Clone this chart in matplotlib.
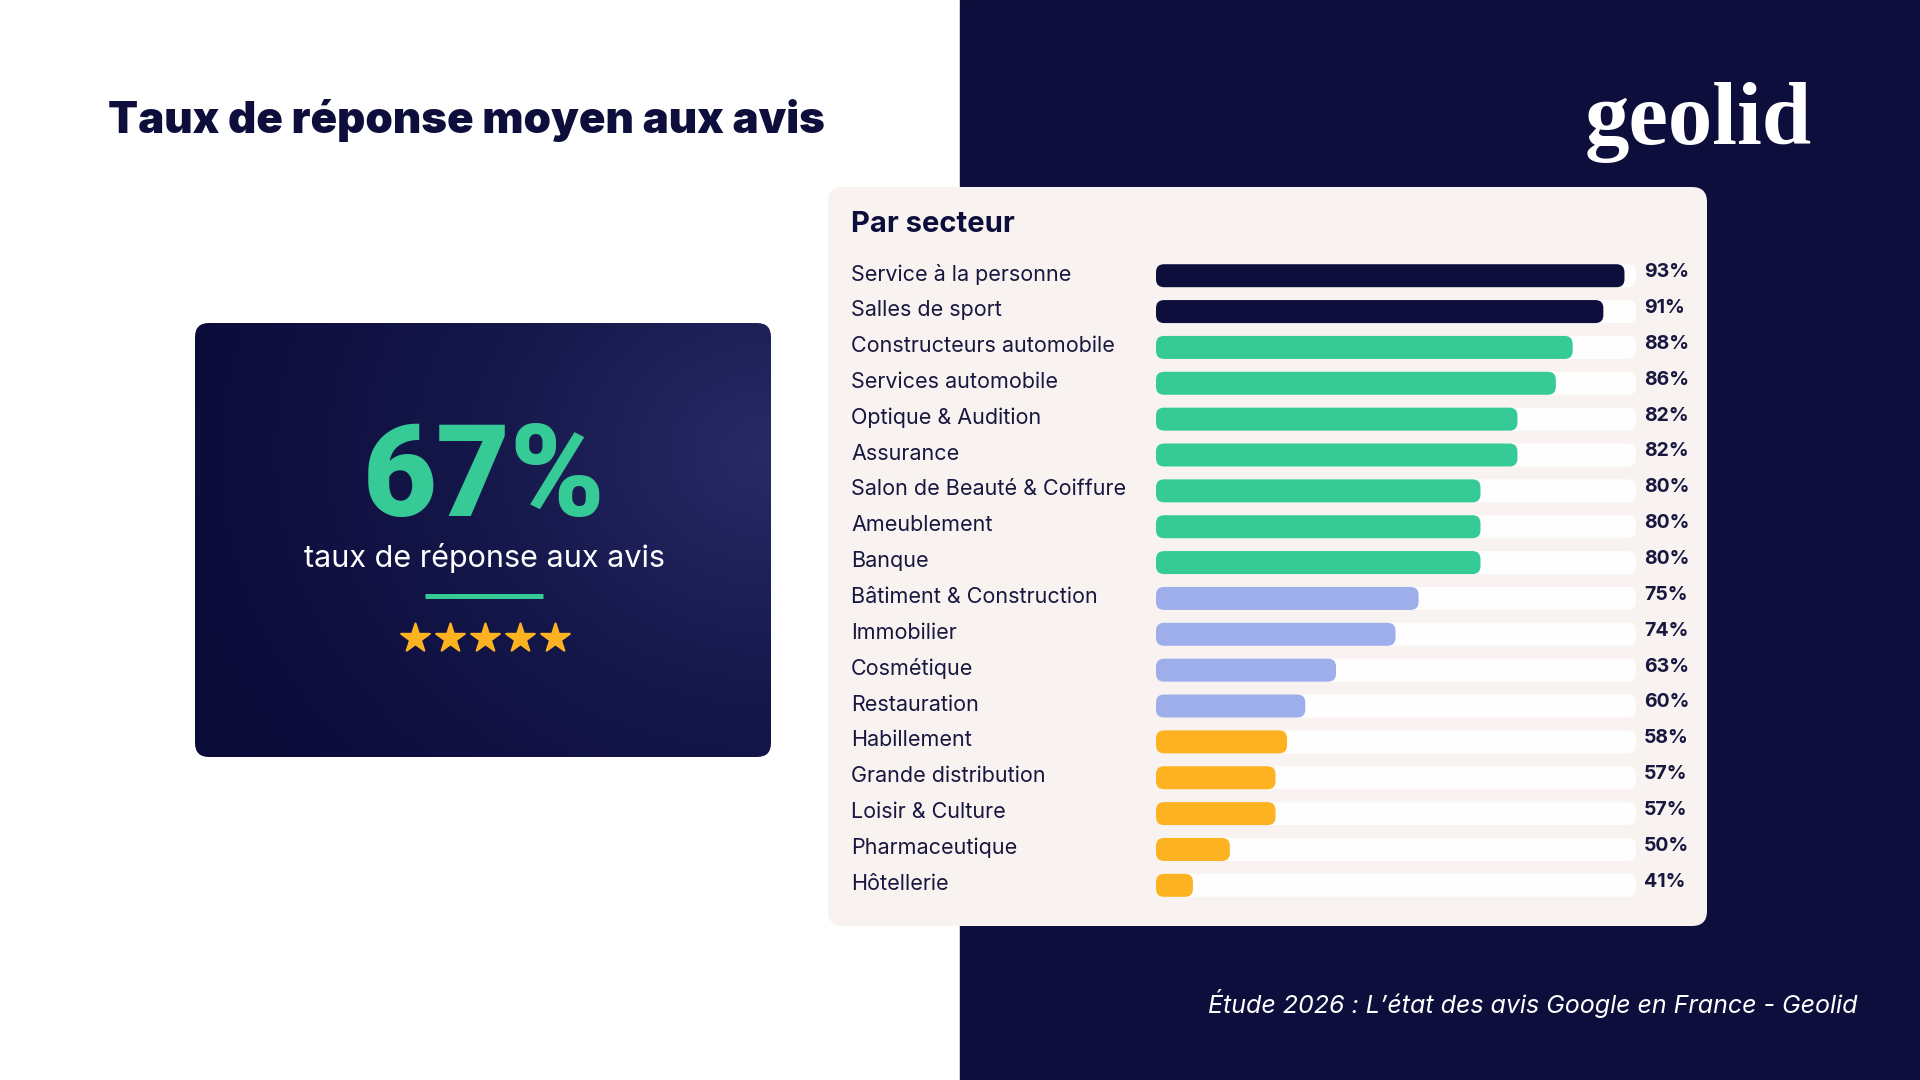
import numpy as np
import matplotlib.pyplot as plt
from matplotlib.patches import FancyBboxPatch, Rectangle
from matplotlib.colors import LinearSegmentedColormap

# data
sectors = ['Service à la personne', 'Salles de sport', 'Constructeurs automobile',
           'Services automobile', 'Optique & Audition', 'Assurance',
           'Salon de Beauté & Coiffure', 'Ameublement', 'Banque',
           'Bâtiment & Construction', 'Immobilier', 'Cosmétique', 'Restauration',
           'Habillement', 'Grande distribution', 'Loisir & Culture',
           'Pharmaceutique', 'Hôtellerie']
rates = [93, 91, 88, 86, 82, 82, 80, 80, 80, 75, 74, 63, 60, 58, 57, 57, 50, 41]
# filled share of each track, as drawn in the reference (not proportional to the rate)
bar_fill = [0.976, 0.932, 0.868, 0.833, 0.753, 0.753, 0.676, 0.676, 0.676,
            0.547, 0.499, 0.375, 0.311, 0.273, 0.249, 0.249, 0.154, 0.077]
tiers = ['top'] * 2 + ['high'] * 7 + ['mid'] * 4 + ['low'] * 5
overall_rate = 67
stars = 5

NAVY = '#0e0e3c'
GREEN = '#35ca96'
tier_colors = {'top': '#0e0e3c', 'high': '#35ca96', 'mid': '#9eaeeb', 'low': '#fdb222'}
CARD = '#f8f3f0'
TEXT = '#17173f'
BODY = ['Inter', 'DejaVu Sans']

plt.rcParams['font.family'] = BODY

fig = plt.figure(figsize=(19.2, 10.8), dpi=100)
fig.patch.set_facecolor('white')
ax = fig.add_axes([0, 0, 1, 1])
ax.set_xlim(0, 1920)
ax.set_ylim(1080, 0)
ax.axis('off')

# right navy half
ax.add_patch(Rectangle((960, 0), 960, 1080, color=NAVY, zorder=0))

# title and logo
ax.text(108, 121, 'Taux de réponse moyen aux avis', fontsize=31.5, fontweight='black',
        color=NAVY, va='center', ha='left')
ax.text(1812, 144, 'geolid', fontsize=64, fontweight='bold', color='white',
        family=['Liberation Serif', 'DejaVu Serif'], ha='right', va='baseline')

# left card with gradient
x0, y0, w0, h0 = 195, 323, 576, 434
card = FancyBboxPatch((x0, y0), w0, h0, boxstyle='round,pad=0,rounding_size=14',
                      facecolor='none', edgecolor='none', zorder=1)
ax.add_patch(card)
gx, gy = np.meshgrid(np.linspace(0, 1, 300), np.linspace(0, 1, 240))
dist = np.sqrt(((gx - 1.0) * 1.0) ** 2 + ((gy - 0.3) * 0.9) ** 2)
shade = np.clip(1 - dist / 1.05, 0, 1)
cmap = LinearSegmentedColormap.from_list('card', ['#0c0c3a', '#15174a', '#272a65'])
img = ax.imshow(shade, extent=[x0, x0 + w0, y0 + h0, y0], cmap=cmap, vmin=0, vmax=1,
                aspect='auto', zorder=1, interpolation='bilinear')
img.set_clip_path(card)

ax.text(484, 516, f'{overall_rate}%', fontsize=92, fontweight='black', color=GREEN,
        family=['Roboto', 'DejaVu Sans'], ha='center', va='baseline', zorder=3)
ax.text(484, 558, 'taux de réponse aux avis', fontsize=22, color='white',
        ha='center', va='center', zorder=3)
ax.plot([425, 543], [595.5, 595.5], color=GREEN, lw=3.6, solid_capstyle='butt', zorder=3)
star_x = 485 + 35 * (np.arange(stars) - (stars - 1) / 2)
ax.scatter(star_x, np.full(stars, 638), marker='*', s=470, color='#fdb222',
           edgecolors='#fdb222', linewidths=1.5, zorder=3)

# sector card
ax.add_patch(FancyBboxPatch((828, 187), 879, 739, boxstyle='round,pad=0,rounding_size=15',
                            facecolor=CARD, edgecolor='none', zorder=1))
ax.text(851, 224, 'Par secteur', fontsize=21, fontweight='bold', color=NAVY,
        ha='left', va='center', zorder=3)

n = len(sectors)
row_px = 35.86
track_px = 480
top_px = 275.7 - row_px / 2
bx = fig.add_axes([1156 / 1920, 1 - (top_px + n * row_px) / 1080,
                   track_px / 1920, n * row_px / 1080])
bx.set_xlim(0, 1)
bx.set_ylim(n - 0.5, -0.5)
bx.axis('off')

bar_h = 23 / row_px
aspect = track_px / row_px
rad = 8 / track_px
for i, (name, rate, fill, tier) in enumerate(zip(sectors, rates, bar_fill, tiers)):
    bx.add_patch(FancyBboxPatch((0, i - bar_h / 2), 1, bar_h,
                                boxstyle=f'round,pad=0,rounding_size={rad}',
                                mutation_aspect=aspect, facecolor='#fefefe',
                                edgecolor='none', zorder=1))
    bx.add_patch(FancyBboxPatch((0, i - bar_h / 2), fill, bar_h,
                                boxstyle=f'round,pad=0,rounding_size={rad}',
                                mutation_aspect=aspect, facecolor=tier_colors[tier],
                                edgecolor='none', zorder=2))
    bx.text(-0.635, i - 0.04, name, fontsize=15.5, color=TEXT, ha='left', va='center',
            transform=bx.get_yaxis_transform(), clip_on=False)
    bx.text(1.017, i - 0.1, f'{rate}%', fontsize=14, fontweight='bold', color=TEXT,
            ha='left', va='center', transform=bx.get_yaxis_transform(), clip_on=False)

# footer
ax.text(1858, 1003, 'Étude 2026 : L’état des avis Google en France - Geolid',
        fontsize=18, style='italic', color='white', ha='right', va='center')

fig.savefig('out.png', dpi=100, facecolor=fig.get_facecolor())
